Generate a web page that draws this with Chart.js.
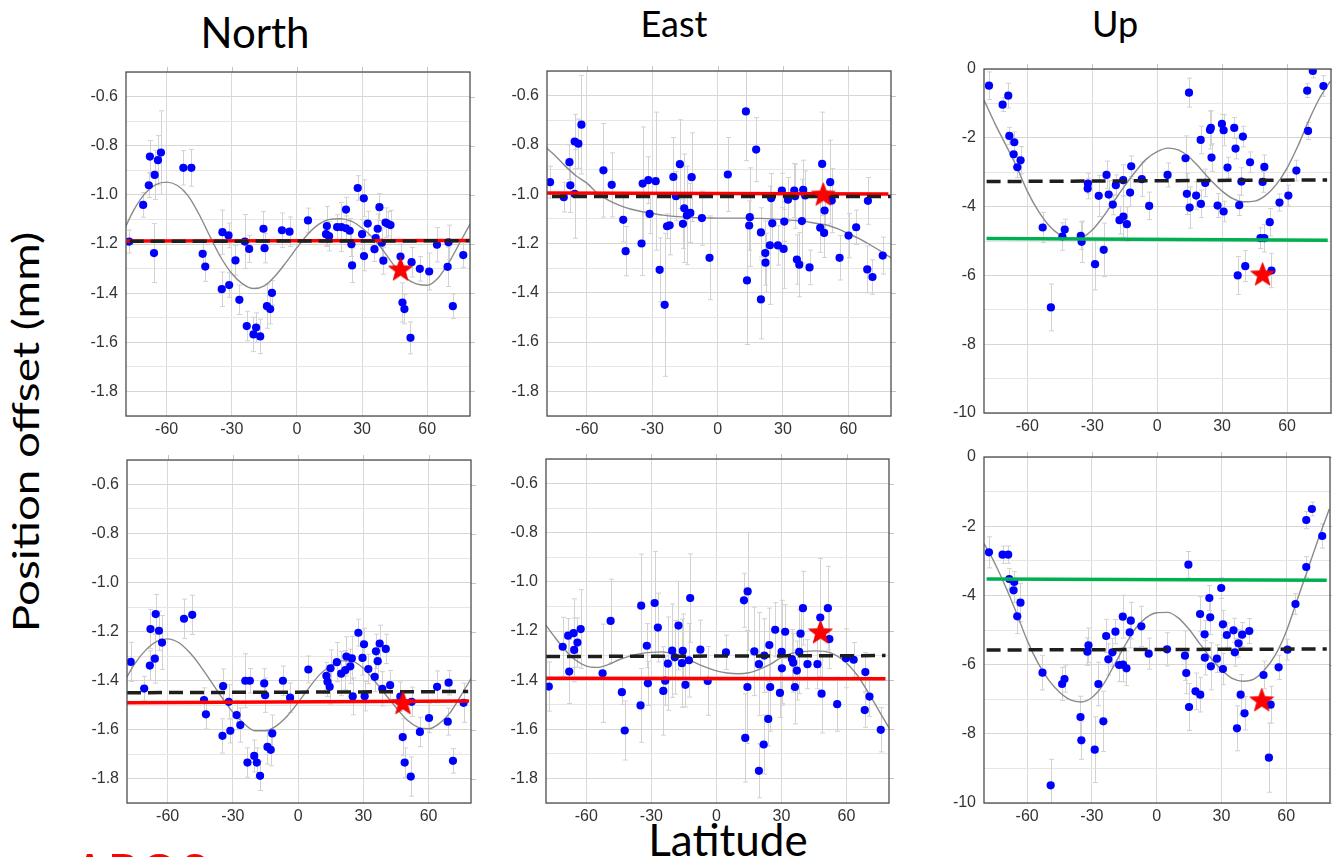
<!DOCTYPE html>
<html>
<head>
<meta charset="utf-8">
<script src="https://cdn.jsdelivr.net/npm/chart.js@4.4.1/dist/chart.umd.min.js"></script>
<style>
html,body{margin:0;padding:0;background:#fff;overflow:hidden;width:1332px;height:857px}
canvas{position:absolute}
.lbl{position:absolute;font-family:Lato,sans-serif;color:#000;line-height:1;white-space:nowrap}
</style>
</head>
<body>
<div class="lbl" style="left:255px;top:11px;font-size:42px;transform:translateX(-50%)">North</div>
<div class="lbl" style="left:674px;top:5px;font-size:36px;transform:translateX(-50%)">East</div>
<div class="lbl" style="left:1115px;top:5px;font-size:36px;transform:translateX(-50%)">Up</div>
<div class="lbl" style="left:25px;top:432px;font-size:36px;transform:translate(-50%,-50%) rotate(-90deg) scaleX(1.27)">Position offset (mm)</div>
<div class="lbl" style="left:728px;top:817px;font-size:44px;transform:translateX(-50%)">Latitude</div>
<div class="lbl" style="left:72px;top:846px;font-size:52px;color:#ff0000">APOS</div>
<script>
var XTICKS=[-60,-30,0,30,60];
var CURVE_LAT=[-80,-75,-70,-65,-60,-55,-50,-45,-40,-35,-30,-25,-20,-15,-10,-5,0,5,10,15,20,25,30,35,40,45,50,55,60,65,70,75,80];

// North, upper row
var nTopLat=[-77.2,-70.8,-68.2,-67.7,-65.8,-65.5,-64.0,-62.6,-52.3,-48.6,-43.4,-42.2,-34.6,-34.3,-31.5,-31.2,-28.3,-26.5,-24.0,-23.1,-22.0,-20.0,-18.8,-16.9,-15.4,-14.9,-13.8,-12.3,-11.5,-6.9,-3.4,5.1,13.4,13.8,14.8,18.5,20.5,22.6,22.6,24.3,25.1,25.4,28.0,30.0,30.8,30.9,32.6,35.7,36.3,37.2,38.0,39.1,39.8,40.8,41.8,43.1,47.7,48.6,49.5,52.3,52.8,56.6,60.9,64.5,69.4,69.8,71.8,76.6];
var nTopOff=[-1.19,-1.041,-0.961,-0.844,-1.237,-0.919,-0.859,-0.828,-0.89,-0.89,-1.24,-1.292,-1.384,-1.152,-1.165,-1.367,-1.267,-1.427,-1.19,-1.534,-1.22,-1.568,-1.54,-1.576,-1.138,-1.217,-1.453,-1.465,-1.399,-1.144,-1.15,-1.104,-1.16,-1.127,-1.168,-1.131,-1.131,-1.06,-1.136,-1.146,-1.201,-1.287,-0.972,-1.16,-1.014,-1.249,-1.117,-1.221,-1.176,-1.138,-1.05,-1.195,-1.268,-1.113,-1.118,-1.123,-1.251,-1.438,-1.465,-1.582,-1.274,-1.301,-1.312,-1.203,-1.293,-1.193,-1.453,-1.245];
var nTopErr=[.047,.05,.05,.065,.12,.1,.1,.17,.07,.075,.05,.06,.07,.09,.05,.05,.06,.06,.11,.06,.055,.07,.06,.07,.07,.06,.09,.06,.05,.07,.06,.05,.05,.08,.06,.05,.1,.05,.05,.05,.05,.07,.05,.06,.075,.06,.05,.05,.05,.06,.055,.06,.055,.06,.05,.06,.05,.08,.06,.065,.06,.05,.075,.07,.08,.07,.05,.05];
var nTopFit=[-1.15,-1.06,-0.995,-0.958,-0.948,-0.962,-1.005,-1.08,-1.17,-1.255,-1.32,-1.362,-1.381,-1.37,-1.33,-1.275,-1.215,-1.16,-1.12,-1.1,-1.097,-1.107,-1.135,-1.175,-1.23,-1.29,-1.338,-1.362,-1.368,-1.338,-1.275,-1.195,-1.115];
var nTopRed=[[-78.7,-1.188],[79.7,-1.186]];
var nTopMean=[[-77,-1.189],[79.7,-1.187]];
var nTopStar=[47.7,-1.301];

// East, upper row
var eTopLat=[-76.9,-70.6,-68.0,-67.6,-65.6,-65.6,-63.9,-62.5,-52.4,-48.6,-43.3,-42.2,-34.9,-34.4,-31.8,-31.2,-28.4,-26.6,-24.3,-23.2,-22.0,-20.3,-19.1,-17.3,-15.9,-15.3,-14.1,-12.5,-11.9,-7.2,-3.7,4.7,13.0,13.5,14.5,14.8,17.7,19.9,19.9,21.9,22.0,24.0,24.6,25.1,27.7,29.5,30.3,30.6,32.3,35.2,35.6,36.4,37.5,38.7,39.3,40.2,42.2,47.1,48.0,48.9,49.1,51.7,52.4,56.0,60.1,63.6,68.7,69.0,71.1,75.8];
var eTopOff=[-0.951,-1.012,-0.870,-0.964,-0.786,-0.999,-0.795,-0.718,-0.903,-0.962,-1.104,-1.231,-1.200,-0.957,-0.943,-1.080,-0.947,-1.307,-1.449,-1.130,-1.126,-0.930,-1.008,-0.878,-1.120,-1.057,-1.086,-1.076,-0.931,-1.097,-1.258,-0.920,-0.664,-1.350,-1.127,-1.093,-0.819,-1.155,-1.427,-1.239,-1.278,-1.207,-1.016,-1.118,-1.208,-0.985,-1.222,-1.111,-1.022,-0.985,-1.008,-1.265,-1.286,-1.109,-0.982,-1.005,-1.297,-1.136,-0.877,-1.157,-1.066,-0.951,-1.026,-1.258,-1.168,-1.134,-1.305,-1.027,-1.336,-1.249];
var eTopErr=[.065,.06,.07,.11,.11,.18,.1,.2,.19,.13,.09,.1,.13,.23,.095,.08,.28,.13,.29,.05,.12,.16,.1,.18,.1,.22,.2,.12,.18,.11,.17,.15,.2,.26,.1,.2,.13,.1,.16,.13,.12,.24,.1,.1,.08,.07,.16,.08,.09,.11,.13,.1,.13,.17,.12,.1,.07,.1,.21,.1,.08,.17,.13,.09,.09,.07,.095,.095,.07,.075];
var eTopFit=[-0.8,-0.84,-0.885,-0.925,-0.955,-0.997,-1.025,-1.045,-1.06,-1.07,-1.078,-1.085,-1.09,-1.093,-1.095,-1.096,-1.097,-1.097,-1.097,-1.097,-1.098,-1.1,-1.103,-1.106,-1.11,-1.118,-1.125,-1.14,-1.16,-1.18,-1.205,-1.232,-1.26];
var eTopRed=[[-78.3,-0.995],[78.4,-0.999]];
var eTopMean=[[-76,-1.009],[79.6,-1.009]];
var eTopStar=[48.5,-0.999];

// Up, upper row
var uTopLat=[-77.7,-71.4,-68.8,-68.3,-66.3,-66.0,-64.6,-63.1,-52.9,-49.1,-43.8,-42.7,-35.3,-34.9,-32.1,-32.0,-28.7,-27.0,-24.7,-23.4,-22.4,-20.5,-19.1,-17.4,-15.6,-15.7,-14.0,-12.5,-12.0,-7.1,-3.7,4.8,13.1,13.7,14.7,15.0,18.0,20.1,20.2,22.2,24.4,24.8,25.1,27.9,29.9,30.7,30.7,32.5,35.6,36.2,37.2,37.9,38.9,39.6,40.7,42.9,47.7,49.5,48.7,49.5,52.0,52.8,56.5,60.6,64.3,69.3,69.7,71.9,76.8];
var uTopOff=[-0.484,-1.036,-0.774,-1.946,-2.478,-2.130,-2.856,-2.652,-4.608,-6.931,-4.869,-4.666,-4.850,-5.024,-3.475,-3.330,-5.673,-3.688,-5.257,-3.078,-3.650,-3.940,-3.378,-4.395,-4.289,-3.233,-4.511,-3.591,-2.827,-3.204,-3.979,-3.078,-2.594,-3.630,-0.687,-4.027,-3.679,-2.062,-3.921,-3.311,-1.772,-1.713,-2.575,-3.969,-1.597,-1.781,-4.143,-2.865,-1.713,-2.314,-6.002,-3.959,-3.272,-1.965,-5.731,-2.711,-4.918,-4.918,-3.282,-2.846,-4.453,-5.857,-3.882,-3.679,-2.953,-0.629,-1.801,-0.058,-0.494];
var uTopErr=[.4,.2,.36,.25,.35,.3,.3,.4,.44,.68,.4,.3,.4,.6,.3,.3,.75,.6,.78,.4,.4,.3,.3,.4,.6,.45,.5,.4,.3,.5,.4,.35,.65,.6,.42,.6,.4,.4,.4,.4,.55,.5,.4,.35,.28,.45,.3,.3,.3,.3,.55,.3,.4,.3,.45,.3,.3,.4,.3,.35,.4,.5,.25,.3,.3,.2,.25,.2,.3];
var uTopFit=[-0.9,-1.58,-2.2,-2.83,-3.55,-4.12,-4.55,-4.82,-4.92,-4.9,-4.68,-4.3,-3.85,-3.4,-2.98,-2.62,-2.4,-2.3,-2.36,-2.57,-2.9,-3.25,-3.55,-3.77,-3.86,-3.84,-3.68,-3.36,-2.88,-2.24,-1.5,-0.85,-0.35];
var uTopGreen=[[-78.8,-4.927],[78.8,-4.976]];
var uTopMean=[[-78.8,-3.272],[78.5,-3.224]];
var uTopStar=[48.7,-5.954];

// North, lower row
var nBotLat=[-77.0,-70.8,-68.2,-67.9,-65.9,-65.5,-64.0,-62.6,-52.5,-48.7,-43.3,-42.4,-34.8,-34.5,-31.9,-31.2,-28.3,-26.6,-24.3,-23.3,-22.2,-20.2,-19.0,-17.5,-15.6,-15.2,-14.1,-12.6,-11.9,-7.0,-3.7,4.7,13.0,13.5,14.5,14.9,17.8,19.8,21.7,22.2,24.0,24.7,25.1,27.7,29.6,30.3,30.6,32.3,35.2,35.8,36.6,37.5,38.7,40.3,42.3,47.0,48.1,49.0,51.8,52.2,56.0,60.2,63.9,68.8,69.2,71.2,76.1];
var nBotOff=[-1.324,-1.433,-1.339,-1.19,-1.311,-1.129,-1.197,-1.245,-1.148,-1.132,-1.48,-1.538,-1.626,-1.423,-1.487,-1.605,-1.541,-1.582,-1.401,-1.735,-1.401,-1.708,-1.735,-1.789,-1.412,-1.46,-1.671,-1.683,-1.616,-1.401,-1.47,-1.355,-1.381,-1.405,-1.426,-1.35,-1.325,-1.372,-1.358,-1.302,-1.342,-1.31,-1.465,-1.205,-1.308,-1.252,-1.464,-1.353,-1.385,-1.281,-1.321,-1.249,-1.434,-1.271,-1.419,-1.466,-1.631,-1.735,-1.792,-1.487,-1.61,-1.553,-1.426,-1.568,-1.409,-1.728,-1.491];
var nBotErr=[.08,.05,.06,.08,.1,.08,.08,.11,.08,.08,.05,.06,.07,.07,.07,.05,.06,.07,.11,.06,.05,.065,.06,.06,.06,.07,.07,.065,.075,.06,.06,.055,.055,.06,.07,.075,.08,.09,.08,.08,.07,.09,.075,.055,.07,.065,.06,.06,.06,.07,.08,.075,.07,.06,.06,.06,.075,.06,.08,.06,.06,.06,.065,.055,.05,.05,.08];
var nBotFit=[-1.405,-1.33,-1.275,-1.24,-1.23,-1.245,-1.285,-1.34,-1.405,-1.47,-1.53,-1.575,-1.605,-1.605,-1.585,-1.545,-1.49,-1.43,-1.375,-1.34,-1.32,-1.322,-1.35,-1.4,-1.455,-1.51,-1.56,-1.59,-1.597,-1.575,-1.53,-1.46,-1.385];
var nBotRed=[[-78.7,-1.491],[78.6,-1.484]];
var nBotMean=[[-78.7,-1.450],[78.2,-1.445]];
var nBotStar=[48.2,-1.49];

// East, lower row
var eBotLat=[-77.3,-70.9,-68.4,-67.9,-65.9,-65.6,-64.1,-62.6,-52.5,-48.8,-43.6,-42.3,-35.0,-34.7,-32.1,-31.6,-28.5,-27.0,-24.5,-23.6,-22.4,-20.4,-19.2,-17.5,-15.9,-15.5,-14.3,-12.7,-12.1,-7.4,-4.0,4.4,12.7,13.3,14.3,14.4,17.5,19.6,19.6,21.8,22.1,23.9,24.4,24.8,27.1,29.3,30.1,30.2,31.7,34.8,35.4,36.2,37.1,38.2,38.8,39.9,42.0,46.6,47.9,48.5,51.4,52.1,55.7,59.8,63.3,68.7,68.4,70.6,75.8];
var eBotOff=[-1.426,-1.264,-1.219,-1.365,-1.209,-1.277,-1.247,-1.192,-1.372,-1.159,-1.449,-1.605,-1.503,-1.097,-1.260,-1.413,-1.086,-1.186,-1.444,-1.402,-1.333,-1.280,-1.307,-1.178,-1.331,-1.281,-1.419,-1.319,-1.066,-1.276,-1.403,-1.287,-1.075,-1.635,-1.428,-1.039,-1.283,-1.335,-1.769,-1.662,-1.300,-1.558,-1.257,-1.428,-1.195,-1.452,-1.285,-1.352,-1.203,-1.314,-1.329,-1.428,-1.361,-1.285,-1.211,-1.107,-1.335,-1.335,-1.145,-1.455,-1.107,-1.233,-1.498,-1.311,-1.317,-1.367,-1.522,-1.467,-1.602];
var eBotErr=[.1,.12,.07,.13,.14,.13,.1,.16,.2,.17,.05,.12,.15,.21,.09,.09,.21,.14,.18,.1,.19,.19,.15,.18,.18,.15,.09,.15,.18,.12,.14,.07,.11,.18,.23,.24,.18,.21,.11,.12,.15,.11,.15,.18,.11,.1,.21,.15,.11,.12,.12,.15,.12,.17,.09,.15,.1,.1,.24,.16,.17,.12,.11,.12,.07,.08,.07,.08,.09];
var eBotFit=[-1.16,-1.22,-1.275,-1.318,-1.343,-1.348,-1.337,-1.317,-1.302,-1.292,-1.287,-1.285,-1.293,-1.308,-1.328,-1.347,-1.362,-1.371,-1.374,-1.37,-1.355,-1.335,-1.307,-1.29,-1.284,-1.281,-1.283,-1.298,-1.33,-1.38,-1.45,-1.525,-1.6];
var eBotRed=[[-78.6,-1.392],[78.0,-1.394]];
var eBotMean=[[-78.6,-1.304],[78.0,-1.300]];
var eBotStar=[48.0,-1.203];

// Up, lower row
var uBotLat=[-77.7,-71.4,-68.8,-68.3,-66.3,-66.0,-64.6,-63.1,-52.9,-49.1,-43.8,-42.7,-35.3,-34.9,-32.1,-31.6,-28.7,-27.0,-24.7,-23.4,-22.4,-20.5,-19.1,-17.4,-15.7,-15.6,-14.0,-12.5,-12.0,-7.1,-3.7,4.8,13.1,13.7,14.7,15.0,18.0,20.1,20.2,22.2,22.3,24.4,24.8,25.1,27.9,29.9,30.7,30.7,32.5,35.6,36.2,37.2,37.9,38.9,39.6,40.7,42.9,49.5,52.8,52.0,56.5,60.6,64.3,69.3,69.3,71.9,76.7];
var uBotOff=[-2.755,-2.823,-2.823,-3.526,-3.854,-3.613,-4.605,-4.210,-6.233,-9.489,-6.561,-6.416,-7.514,-8.189,-5.626,-5.443,-8.459,-6.561,-7.640,-5.173,-5.848,-5.645,-5.048,-6.012,-4.615,-6.002,-6.108,-5.067,-4.730,-4.894,-5.684,-5.559,-5.742,-6.243,-3.112,-7.225,-6.773,-4.538,-6.869,-5.125,-5.800,-4.075,-4.634,-6.050,-5.829,-3.786,-4.836,-6.127,-5.145,-5.010,-5.645,-7.842,-5.385,-6.869,-5.135,-7.408,-5.029,-6.301,-7.158,-8.690,-6.079,-5.568,-4.249,-3.179,-1.821,-1.503,-2.283];
var uBotErr=[.45,.25,.25,.3,.35,.3,.5,.55,.5,.75,.48,.38,.6,.55,.4,.5,.95,.63,.87,.48,.45,.4,.35,.48,.62,.5,.5,.45,.53,.58,.45,.48,.72,.6,.38,.68,.53,.5,.5,.4,.5,.36,.5,.68,.4,.3,.4,.45,.35,.35,.4,.65,.4,.58,.35,.48,.36,.4,.53,1.0,.35,.3,.3,.3,.25,.2,.35];
var uBotFit=[-2.5,-3.07,-3.75,-4.5,-5.3,-5.95,-6.45,-6.8,-7.02,-7.08,-6.95,-6.6,-6.05,-5.48,-4.97,-4.65,-4.5,-4.49,-4.65,-4.98,-5.4,-5.8,-6.15,-6.4,-6.48,-6.42,-6.15,-5.72,-5.05,-4.15,-3.25,-2.35,-1.5];
var uBotGreen=[[-78.8,-3.526],[78.8,-3.565]];
var uBotMean=[[-78.8,-5.578],[78.8,-5.549]];
var uBotStar=[48.7,-7.013];

var PAD_T=12, PAD_R=6, Y_W=60, X_H=30;

var panels=[
	{box:[126,72,470,416], xr:[-78.7,79.7], yr:[-1.9,-0.5], step:0.1, lat:nTopLat, off:nTopOff, err:nTopErr, fit:nTopFit, solid:nTopRed, solidColor:'#ff0000', mean:nTopMean, star:nTopStar},
	{box:[547,71,891,416], xr:[-78.3,79.6], yr:[-1.9,-0.5], step:0.1, lat:eTopLat, off:eTopOff, err:eTopErr, fit:eTopFit, solid:eTopRed, solidColor:'#ff0000', mean:eTopMean, star:eTopStar},
	{box:[984,69,1331,413], xr:[-80,80.3], yr:[-10,0], step:1, lat:uTopLat, off:uTopOff, err:uTopErr, fit:uTopFit, solid:uTopGreen, solidColor:'#00b050', mean:uTopMean, star:uTopStar},
	{box:[127,460,471,803], xr:[-78.7,79.5], yr:[-1.9,-0.5], step:0.1, lat:nBotLat, off:nBotOff, err:nBotErr, fit:nBotFit, solid:nBotRed, solidColor:'#ff0000', mean:nBotMean, star:nBotStar},
	{box:[546,459,889,803], xr:[-78.6,79.6], yr:[-1.9,-0.5], step:0.1, lat:eBotLat, off:eBotOff, err:eBotErr, fit:eBotFit, solid:eBotRed, solidColor:'#ff0000', mean:eBotMean, star:eBotStar},
	{box:[984,457,1330,803], xr:[-80,80.3], yr:[-10,0], step:1, lat:uBotLat, off:uBotOff, err:uBotErr, fit:uBotFit, solid:uBotGreen, solidColor:'#00b050', mean:uBotMean, star:uBotStar}
];

function isMajor(v,step){
	var k=Math.round(v/step);
	return k%2===0;
}

// vertical error bars with small caps, drawn under the dots
var errBars={
	id:'errBars',
	beforeDatasetsDraw:function(chart){
		var ctx=chart.ctx, xs=chart.scales.x, ys=chart.scales.y, a=chart.chartArea;
		chart.data.datasets.forEach(function(ds){
			if(!ds.errors) return;
			ctx.save();
			ctx.beginPath();
			ctx.rect(a.left,a.top,a.right-a.left,a.bottom-a.top);
			ctx.clip();
			ctx.strokeStyle='#d2d2d2';
			ctx.lineWidth=1;
			ds.data.forEach(function(pt,i){
				var e=ds.errors[i];
				var x=Math.round(xs.getPixelForValue(pt.x))+0.5;
				var y1=ys.getPixelForValue(pt.y+e), y2=ys.getPixelForValue(pt.y-e);
				ctx.beginPath();
				ctx.moveTo(x,y1);ctx.lineTo(x,y2);
				ctx.moveTo(x-2.5,y1);ctx.lineTo(x+2.5,y1);
				ctx.moveTo(x-2.5,y2);ctx.lineTo(x+2.5,y2);
				ctx.stroke();
			});
			ctx.restore();
		});
	}
};

// plot box plus the short outer ticks on top and right
var frame={
	id:'frame',
	afterDraw:function(chart){
		var a=chart.chartArea, ctx=chart.ctx, xs=chart.scales.x, ys=chart.scales.y;
		var step=chart.options.scales.y.ticks.stepSize;
		ctx.save();
		ctx.strokeStyle='#c4c4c4';
		ctx.lineWidth=1;
		xs.ticks.forEach(function(t){
			var x=Math.round(xs.getPixelForValue(t.value))+0.5;
			ctx.beginPath();ctx.moveTo(x,a.top-5);ctx.lineTo(x,a.top);ctx.stroke();
		});
		ys.ticks.forEach(function(t){
			if(!isMajor(t.value,step)) return;
			var y=Math.round(ys.getPixelForValue(t.value))+0.5;
			ctx.beginPath();ctx.moveTo(a.right,y);ctx.lineTo(a.right+5,y);ctx.stroke();
		});
		ctx.strokeStyle='#4d4d4d';
		ctx.lineWidth=1.3;
		ctx.strokeRect(a.left,a.top,a.right-a.left,a.bottom-a.top);
		ctx.restore();
	}
};

function starImage(r){
	var s=Math.ceil(r*2+4);
	var c=document.createElement('canvas');
	c.width=s; c.height=s;
	var g=c.getContext('2d');
	g.translate(s/2,s/2+r*0.1);
	g.beginPath();
	for(var k=0;k<10;k++){
		var rad=(k%2)?r*0.42:r;
		var ang=-Math.PI/2+k*Math.PI/5;
		g.lineTo(rad*Math.cos(ang),rad*Math.sin(ang));
	}
	g.closePath();
	g.fillStyle='#ff0000';
	g.fill();
	g.strokeStyle='#e00000';
	g.lineWidth=0.8;
	g.stroke();
	return c;
}
var STAR=starImage(12.5);

function toPts(xs,ys){
	var out=[];
	for(var i=0;i<xs.length;i++) out.push({x:xs[i],y:ys[i]});
	return out;
}
function pairPts(arr){
	return arr.map(function(p){return {x:p[0],y:p[1]};});
}

function makePanel(p){
	var cv=document.createElement('canvas');
	var w=p.box[2]-p.box[0]+Y_W+PAD_R, h=p.box[3]-p.box[1]+PAD_T+X_H;
	cv.width=w; cv.height=h;
	cv.style.width=w+'px'; cv.style.height=h+'px';
	cv.style.left=(p.box[0]-Y_W)+'px';
	cv.style.top=(p.box[1]-PAD_T)+'px';
	document.body.appendChild(cv);

	var tickFont={family:'"Liberation Sans", Arial, sans-serif', size:16};

	new Chart(cv.getContext('2d'),{
		type:'scatter',
		data:{
			datasets:[
				{label:'stations', data:toPts(p.lat,p.off), errors:p.err, backgroundColor:'#0000ff', borderWidth:0, pointRadius:4.1, order:3},
				{type:'line', label:'fit', data:toPts(CURVE_LAT,p.fit), borderColor:'#8a8a8a', borderWidth:1.4, pointRadius:0, cubicInterpolationMode:'monotone', fill:false, order:4},
				{type:'line', label:'solid', data:pairPts(p.solid), borderColor:p.solidColor, borderWidth:3.5, pointRadius:0, fill:false, order:2},
				{type:'line', label:'mean', data:pairPts(p.mean), borderColor:'#1e1e1e', borderWidth:3.5, borderDash:[14,7], pointRadius:0, fill:false, order:1},
				{label:'APOS', data:[{x:p.star[0], y:p.star[1]}], pointStyle:STAR, pointRadius:12, order:0}
			]
		},
		options:{
			responsive:false,
			animation:false,
			devicePixelRatio:1,
			layout:{autoPadding:false, padding:{top:PAD_T,right:PAD_R,left:0,bottom:0}},
			plugins:{legend:{display:false}, tooltip:{enabled:false}},
			scales:{
				x:{
					type:'linear', min:p.xr[0], max:p.xr[1],
					afterBuildTicks:function(s){ s.ticks=XTICKS.map(function(v){return {value:v};}); },
					afterFit:function(s){ s.height=X_H; s.paddingLeft=0; s.paddingRight=0; },
					grid:{color:'#dadada', drawTicks:false},
					border:{display:false},
					ticks:{font:tickFont, color:'#333', padding:4, maxRotation:0, autoSkip:false}
				},
				y:{
					type:'linear', min:p.yr[0], max:p.yr[1],
					afterFit:function(s){ s.width=Y_W; s.paddingTop=0; s.paddingBottom=0; },
					grid:{drawTicks:false, color:function(c){ return (c.tick && isMajor(c.tick.value,p.step)) ? '#d6d6d6' : '#e6e6e6'; }},
					border:{display:false},
					ticks:{
						stepSize:p.step, autoSkip:false, font:tickFont, color:'#333', padding:8,
						callback:function(v){
							if(!isMajor(v,p.step)) return '';
							return p.step<1 ? v.toFixed(1) : String(Math.round(v));
						}
					}
				}
			}
		},
		plugins:[errBars,frame]
	});
}

panels.forEach(makePanel);
</script>
</body>
</html>
